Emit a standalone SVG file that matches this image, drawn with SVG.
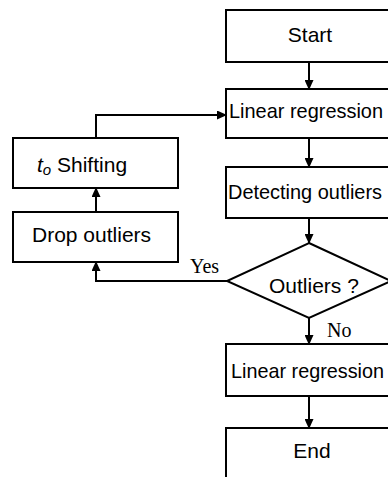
<svg xmlns="http://www.w3.org/2000/svg" width="388" height="477" viewBox="0 0 388 477">
<style>
.box{fill:#fff;stroke:#000;stroke-width:2}
.lbl{font-family:"Liberation Sans",Arial,sans-serif;font-size:21px;fill:#000}
.ser{font-family:"Liberation Serif","Times New Roman",serif;font-size:20px;fill:#000}
.con{fill:none;stroke:#000;stroke-width:2;marker-end:url(#ah)}
</style>
<defs>
<marker id="ah" markerUnits="userSpaceOnUse" markerWidth="10" markerHeight="9" refX="9" refY="4.5" orient="auto">
<path d="M0,0 L10,4.5 L0,9 z" fill="#000"/>
</marker>
</defs>
<rect width="388" height="477" fill="#fff"/>
<g id="connectors">
<line class="con" x1="309" y1="62" x2="309" y2="89"/>
<line class="con" x1="309" y1="138" x2="309" y2="167"/>
<line class="con" x1="309" y1="218" x2="309" y2="243"/>
<line class="con" x1="309" y1="318" x2="309" y2="344"/>
<line class="con" x1="309" y1="396" x2="309" y2="428"/>
<path class="con" d="M227,281 H96 V262"/>
<line class="con" x1="96" y1="212" x2="96" y2="188"/>
<path class="con" d="M96,138 V115 H226"/>
<text class="ser" x="190" y="273">Yes</text>
<text class="ser" x="327" y="337">No</text>
</g>
<g id="start">
<rect class="box" x="226" y="10" width="172" height="52"/>
<text class="lbl" x="310" y="42" text-anchor="middle">Start</text>
</g>
<g id="linreg1">
<rect class="box" x="226" y="89" width="172" height="49"/>
<text class="lbl" x="229" y="118" textLength="154" lengthAdjust="spacingAndGlyphs">Linear regression</text>
</g>
<g id="detect">
<rect class="box" x="226" y="167" width="172" height="51"/>
<text class="lbl" x="228" y="199" textLength="154" lengthAdjust="spacingAndGlyphs">Detecting outliers</text>
</g>
<g id="decision">
<polygon class="box" points="309,243 391,281 309,318 227,281"/>
<text class="lbl" x="269" y="293">Outliers ?</text>
</g>
<g id="linreg2">
<rect class="box" x="226" y="344" width="172" height="52"/>
<text class="lbl" x="231" y="378" textLength="153" lengthAdjust="spacingAndGlyphs">Linear regression</text>
</g>
<g id="end">
<rect class="box" x="226" y="428" width="172" height="60"/>
<text class="lbl" x="312" y="458" text-anchor="middle">End</text>
</g>
<g id="shift">
<rect class="box" x="13" y="138" width="165" height="50"/>
<text class="lbl" x="37" y="172"><tspan font-style="italic">t</tspan><tspan font-style="italic" font-size="15" dy="3">o</tspan><tspan dy="-3"> Shifting</tspan></text>
</g>
<g id="drop">
<rect class="box" x="13" y="212" width="165" height="50"/>
<text class="lbl" x="32" y="242">Drop outliers</text>
</g>
</svg>
